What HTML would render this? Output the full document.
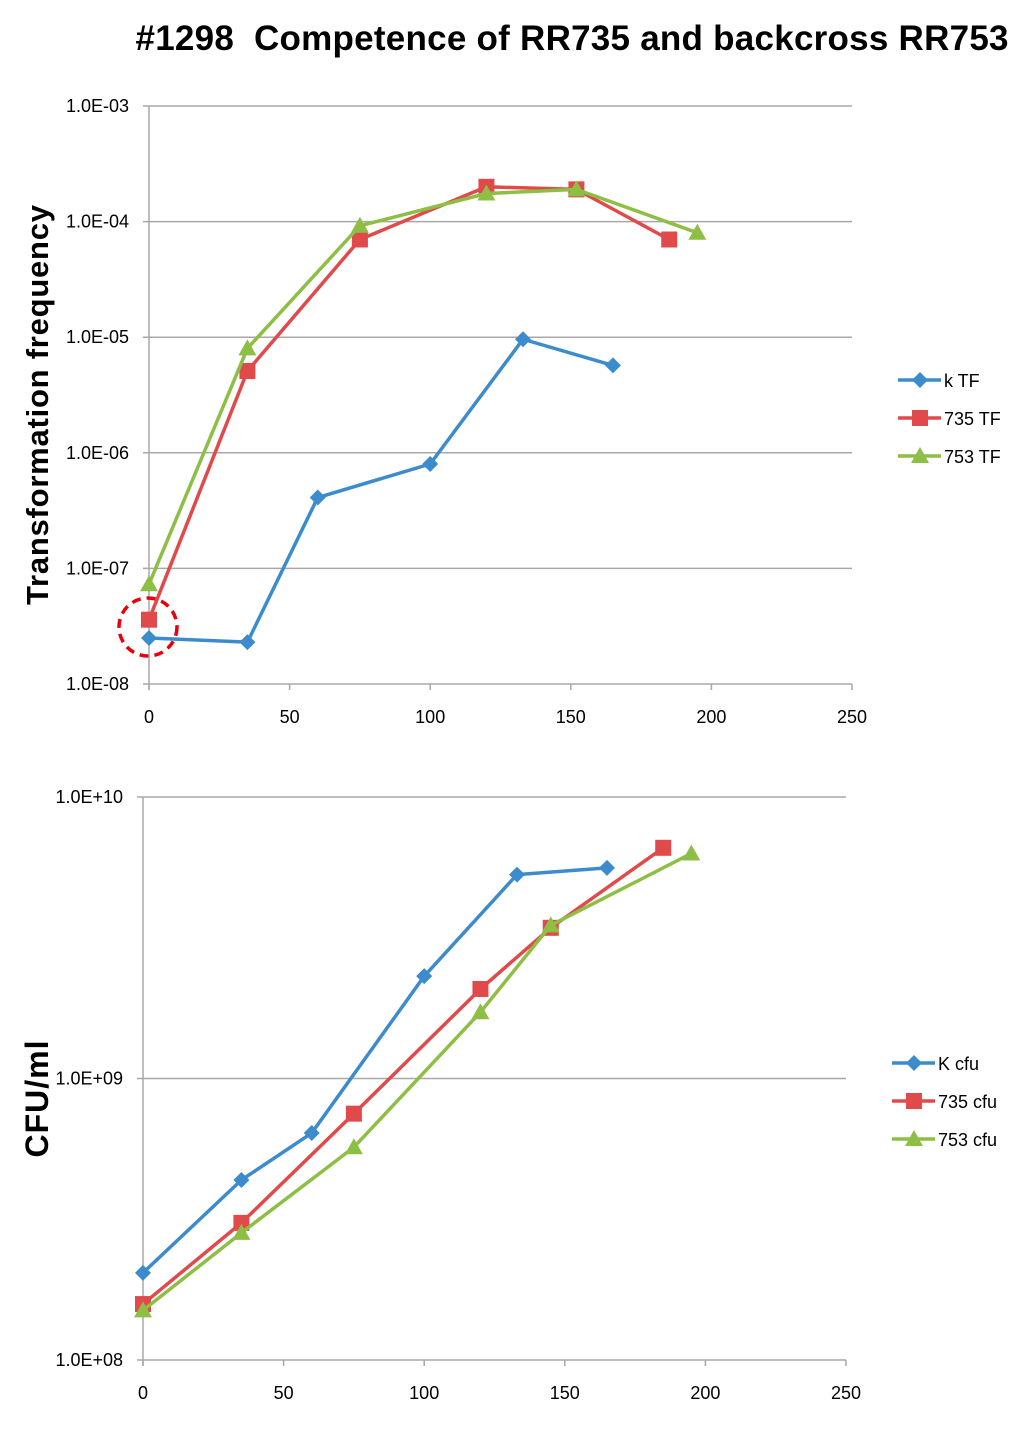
<!DOCTYPE html>
<html><head><meta charset="utf-8"><style>
body{margin:0;background:#fff;width:1035px;height:1429px;overflow:hidden;font-family:"Liberation Sans",sans-serif}
svg text{font-family:"Liberation Sans",sans-serif}
</style></head><body>
<svg id="svg" width="1035" height="1429">
<text x="572" y="50" font-size="35" font-weight="bold" text-anchor="middle" textLength="873">#1298&#160; Competence of RR735 and backcross RR753</text>
<text transform="translate(48,405) rotate(-90)" font-size="31" font-weight="bold" text-anchor="middle" textLength="400">Transformation frequency</text>
<text transform="translate(48,1099) rotate(-90)" font-size="32" font-weight="bold" text-anchor="middle" textLength="117">CFU/ml</text>
<circle cx="148" cy="627" r="29" fill="none" stroke="#e8000b" stroke-width="3.5" stroke-dasharray="9,6"/>
</svg>
<script>
const xTicks=[0,50,100,150,200,250];
const topYTicks=["1.0E-08","1.0E-07","1.0E-06","1.0E-05","1.0E-04","1.0E-03"];
const botYTicks=["1.0E+08","1.0E+09","1.0E+10"];
const kX=[0,35,60,100,133,165];
const kTF=[2.5e-8,2.3e-8,4.1e-7,8e-7,9.6e-6,5.7e-6];
const x735=[0,35,75,120,152,185];
const tf735=[3.6e-8,5.1e-6,7e-5,2.0e-4,1.9e-4,7e-5];
const x753=[0,35,75,120,152,195];
const tf753=[7.3e-8,8e-6,9.2e-5,1.75e-4,1.9e-4,8e-5];
const kcX=[0,35,60,100,133,165];
const kCfu=[2.04e8,4.36e8,6.4e8,2.31e9,5.3e9,5.6e9];
const c735X=[0,35,75,120,145,185];
const cfu735=[1.58e8,3.07e8,7.5e8,2.08e9,3.43e9,6.6e9];
const c753X=[0,35,75,120,145,195];
const cfu753=[1.5e8,2.83e8,5.7e8,1.72e9,3.5e9,6.3e9];

const NS="http://www.w3.org/2000/svg",svg=document.getElementById('svg');
function mk(t,a,p){const e=document.createElementNS(NS,t);for(const k in a)e.setAttribute(k,a[k]);(p||svg).appendChild(e);return e;}
const C={b:"#3c8ccd",r:"#e04a4a",g:"#8dbf45"};
function chart(o){
 const sx=v=>o.x0+(o.x1-o.x0)*v/250;
 const sy=v=>o.yb-(Math.log10(v)-o.lmin)*o.dec;
 const g=mk('g',{});
 o.yTicks.forEach((t,i)=>{const y=o.yb-i*o.dec;
  const l=mk('line',{x1:o.x0-6,x2:o.x1,y1:y,y2:y,stroke:'#a8a8a8','stroke-width':1.5},g);
  const tx=mk('text',{x:o.x0-20,y:y+6,'font-size':18,'text-anchor':'end'},g);tx.textContent=t;});
 const ax=mk('line',{x1:o.x0,x2:o.x0,y1:o.yb-(o.yTicks.length-1)*o.dec,y2:o.yb+6,stroke:'#a8a8a8','stroke-width':1.5},g);
 xTicks.forEach(t=>{const x=sx(t);
  mk('line',{x1:x,x2:x,y1:o.yb,y2:o.yb+6,stroke:'#a8a8a8','stroke-width':1.5},g);
  const tx=mk('text',{x:x,y:o.yb+39,'font-size':18,'text-anchor':'middle'},g);tx.textContent=t;});
 o.series.forEach((s,si)=>{
  const sg=mk('g',{},g);
  const pts=s.x.map((x,i)=>sx(x)+','+sy(s.y[i])).join(' ');
  mk('polyline',{points:pts,fill:'none',stroke:s.c,'stroke-width':3.5,'stroke-linejoin':'round'},sg);
  s.x.forEach((x,i)=>marker(s.m,sx(x),sy(s.y[i]),s.c,sg));
  const ly=o.ly+si*38,lx=o.lx;
  const lg=mk('g',{},g);
  mk('line',{x1:lx,x2:lx+43,y1:ly,y2:ly,stroke:s.c,'stroke-width':3.5},lg);
  marker(s.m,lx+22,ly,s.c,lg);
  const t=mk('text',{x:lx+46,y:ly+7,'font-size':18},lg);t.textContent=s.label;});
}
function marker(m,x,y,c,p){
 if(m==='d')mk('polygon',{points:`${x},${y-8} ${x+8},${y} ${x},${y+8} ${x-8},${y}`,fill:c},p);
 else if(m==='s')mk('rect',{x:x-8,y:y-8,width:16,height:16,fill:c},p);
 else mk('polygon',{points:`${x},${y-9} ${x+9},${y+7} ${x-9},${y+7}`,fill:c},p);
}
chart({name:'top-chart',x0:149,x1:852,yb:684,dec:115.6,lmin:-8,yTicks:topYTicks,lx:898,ly:380,
 series:[{label:'k TF',x:kX,y:kTF,c:C.b,m:'d'},{label:'735 TF',x:x735,y:tf735,c:C.r,m:'s'},{label:'753 TF',x:x753,y:tf753,c:C.g,m:'t'}]});
chart({name:'bottom-chart',x0:143,x1:846,yb:1360,dec:281.5,lmin:8,yTicks:botYTicks,lx:892,ly:1063,
 series:[{label:'K cfu',x:kcX,y:kCfu,c:C.b,m:'d'},{label:'735 cfu',x:c735X,y:cfu735,c:C.r,m:'s'},{label:'753 cfu',x:c753X,y:cfu753,c:C.g,m:'t'}]});
const circ=document.querySelector('circle');svg.appendChild(circ);
</script>
</body></html>
